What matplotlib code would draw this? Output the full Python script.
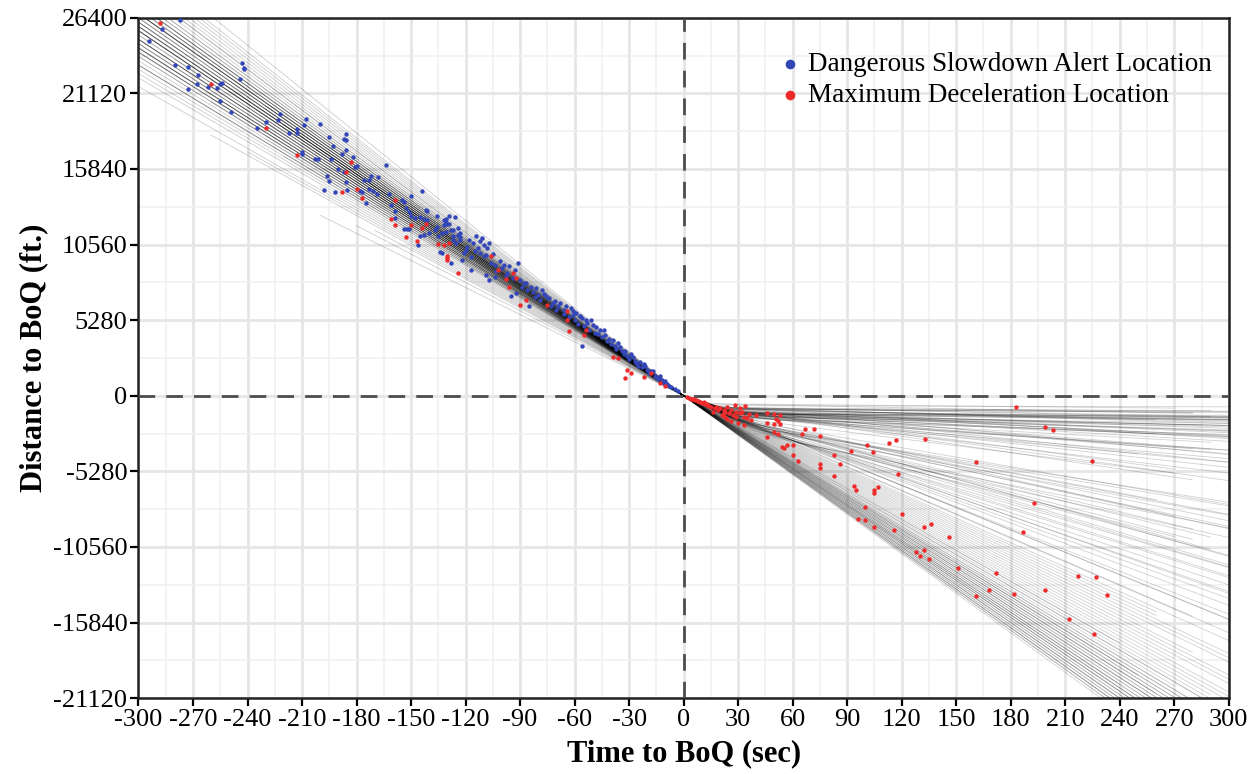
import matplotlib
matplotlib.use('Agg')
import matplotlib.pyplot as plt
from matplotlib.ticker import MultipleLocator
import numpy as np

plt.rcParams['font.family'] = 'serif'
plt.rcParams['font.serif'] = ['Liberation Serif', 'DejaVu Serif']
plt.rcParams['axes.unicode_minus'] = False

# upstream trajectories: speed (ft/s) and time the record starts (s)
up_speed = [84, 79, 88, 91, 76, 83, 86, 95, 81, 73,
            87, 82, 90, 78, 85, 99, 80, 84, 69, 89,
            86, 92, 77, 83, 81, 94, 88, 75, 85, 97,
            82, 79, 90, 86, 71, 84, 93, 87, 80, 83,
            102, 78, 85, 89, 66, 82, 91, 86, 84, 74,
            88, 81, 96, 79, 87, 83, 92, 85, 70, 89,
            80, 86, 100, 77, 84, 90, 82, 88, 63, 85,
            93, 81, 87, 76, 83, 98, 86, 89, 80, 84,
            91, 72, 88, 82, 85, 95, 79, 87, 68, 86,
            83, 86, 80, 88, 84, 82, 87, 85, 79, 90,
            81, 86, 84, 89, 83, 77, 85, 88, 82, 86,
            91, 84, 80, 87, 83, 85, 78, 89, 86, 82]
up_start = [-320, -260, -320, -300, -220, -320, -180, -290, -320, -200,
            -320, -240, -280, -320, -160, -280, -320, -210, -150, -320,
            -250, -290, -320, -190, -320, -285, -230, -320, -320, -275,
            -170, -320, -300, -320, -240, -140, -295, -320, -260, -320,
            -260, -200, -320, -310, -180, -320, -290, -220, -320, -320,
            -150, -320, -280, -230, -320, -320, -300, -190, -260, -320,
            -320, -270, -270, -320, -170, -300, -320, -250, -200, -320,
            -290, -320, -210, -320, -320, -280, -320, -320, -160, -240,
            -300, -320, -320, -190, -320, -290, -320, -230, -170, -320,
            -320, -200, -320, -260, -180, -320, -240, -320, -150, -300,
            -320, -220, -280, -320, -190, -320, -250, -320, -160, -320,
            -290, -210, -320, -320, -170, -320, -230, -310, -320, -200]

# downstream trajectories: early speed, bend time, late speed, end time
ds_v1 = [45, 40, 50, 42, 48, 38, 52, 44, 46, 50, 40, 47, 43, 55, 41, 49, 45, 39,
         51, 44, 48, 46, 42, 50, 47, 43, 45, 40, 52, 44, 49, 46, 41, 53, 45, 48,
         44, 47, 42, 50, 45, 39, 53, 46, 43, 48, 41, 51, 44, 47, 40, 49, 45, 42,
         52, 46, 43, 50, 44, 48,
         55, 50, 58, 52, 60, 48, 56, 54, 50, 62, 57, 53, 59, 51, 55, 60, 49, 58,
         55, 52, 58, 50, 57, 54, 60, 51, 56, 53, 59, 50, 55, 57,
         60, 64, 67, 70, 72, 73, 74, 75, 76, 77, 77, 78, 78, 79, 79, 80, 80, 81,
         81, 82, 82, 83, 83, 84, 84, 85, 85, 86, 86, 87, 87, 88, 88, 89, 89, 90,
         90, 91, 92, 58,
         52, 55, 57, 59, 61, 62, 63, 65, 66, 68, 69, 71, 72, 74, 76, 78, 80, 82,
         84, 85, 86, 88, 90, 91]
ds_tb = [20, 25, 18, 30, 22, 15, 25, 28, 12, 30, 35, 24, 20, 22, 18, 26, 32, 28,
         20, 16, 30, 25, 22, 28, 35, 30, 18, 24, 20, 26, 14, 33, 28, 24, 30, 19,
         22, 27, 19, 24, 29, 21, 17, 31, 26, 23, 32, 27, 20, 34, 29, 21, 26, 24,
         28, 18, 33, 16, 30, 25,
         30, 40, 25, 45, 35, 50, 28, 60, 35, 40, 30, 55, 22, 38, 45, 30, 32, 50,
         35, 42, 28, 48, 33, 38, 26, 44, 36, 30, 40, 28, 50, 24,
         0, 0, 0, 0, 0, 0, 0, 0, 0, 0, 0, 0, 0, 0, 0, 0, 0, 0,
         0, 0, 0, 0, 0, 0, 0, 0, 0, 0, 0, 0, 0, 0, 0, 0, 0, 0,
         0, 0, 0, 0,
         0, 0, 0, 0, 0, 0, 0, 0, 0, 0, 0, 0, 0, 0, 0, 0, 0, 0,
         0, 0, 0, 0, 0, 0]
ds_v2 = [1, 2, 0.5, 3, 1.5, 2.5, 4, 0.8, 1.2, 5, 2, 6, 3.5, 2, 8, 1, 7, 10,
         4.5, 12, 9, 14, 3, 11, 16, 6, 2.2, 18, 5.5, 13, 0.3, 8.5, 1.8, 3, 15, 2.8,
         0.5, 1.5, 2.5, 3.2, 0.2, 4, 1, 2.4, 5, 7.5, 9.5, 12, 17, 4.2, 1.3, 6.5, 10.5, 19,
         2.6, 0.9, 3.8, 13.5, 5.8, 1.7,
         22, 28, 35, 20, 40, 30, 45, 25, 38, 32, 26, 42, 48, 24, 34, 44, 36, 28,
         24, 31, 38, 21, 46, 27, 50, 33, 40, 52, 23, 29, 37, 55,
         60, 64, 67, 70, 72, 73, 74, 75, 76, 77, 77, 78, 78, 79, 79, 80, 80, 81,
         81, 82, 82, 83, 83, 84, 84, 85, 85, 86, 86, 87, 87, 88, 88, 89, 89, 90,
         90, 91, 92, 58,
         52, 55, 57, 59, 61, 62, 63, 65, 66, 68, 69, 71, 72, 74, 76, 78, 80, 82,
         84, 85, 86, 88, 90, 91]
ds_end = [300, 300, 290, 300, 300, 280, 300, 300, 270, 300, 300, 300, 300, 260, 300, 300, 290, 300,
          300, 300, 280, 300, 300, 300, 270, 300, 300, 300, 300, 250, 300, 300, 300, 285, 300, 300,
          300, 300, 290, 300, 300, 300, 280, 300, 300, 300, 290, 300, 270, 300, 300, 300, 300, 280,
          300, 300, 300, 300, 260, 300,
          300, 300, 290, 300, 300, 280, 300, 300, 300, 270, 300, 300, 300, 260, 300, 300, 300, 300,
          300, 290, 300, 300, 300, 300, 300, 280, 300, 300, 300, 270, 300, 300,
          300, 280, 300, 300, 290, 300, 300, 270, 300, 300, 300, 250, 300, 300, 300, 300, 260, 300,
          300, 300, 280, 300, 300, 300, 240, 300, 300, 300, 300, 290, 300, 300, 300, 300, 270, 300,
          300, 300, 300, 260,
          300, 280, 300, 260, 300, 300, 250, 300, 300, 270, 300, 300, 240, 300, 300, 300, 300, 300,
          300, 300, 300, 300, 300, 300]

blue_t = [-287, -294, -277, -280, -273, -267, -268, -273, -262, -257, -255, -254, -255, -243,
          -242, -242, -244, -249, -222, -223, -230, -235, -208, -209, -213, -213, -217,
          -200, -210, -210, -195, -186, -187, -186, -193, -188, -186, -182, -194, -203, -201,
          -181, -180, -190, -187, -196, -195, -186, -198, -192, -185, -178, -177, -176, -173,
          -172, -168, -173, -171, -169, -175, -164, -162, -155, -154, -150, -144, -161, -159,
          -159, -153, -151, -154, -152, -151, -145, -143, -146, -150, -148, -145, -142, -141,
          -143, -141, -140, -137, -136, -136, -135, -134, -131, -131, -129, -129, -126, -127,
          -124, -123, -127, -125, -123,
          -132, -131, -132, -133, -131, -128, -127, -124, -123, -133, -128, -117, -121, -120,
          -122, -118, -116, -114, -112, -111, -110, -107, -108, -115, -112, -110, -109, -106,
          -104, -101, -109, -107, -104, -99, -96, -93, -91, -95, -92, -89, -88, -86, -85, -83,
          -80, -78, -76, -72, -69, -66, -61, -57,
          -119, -117, -113, -105, -103, -100, -98, -97, -94, -90, -87, -84, -82, -81, -79, -77,
          -74, -73, -71, -70,
          -65, -61, -57, -54, -50, -46, -43, -39, -35, -32, -28, -24, -21, -17, -13, -10,
          -68, -66, -63, -62, -60, -59, -58, -56, -55, -53, -52, -51, -49, -48, -47, -45,
          -44, -42, -41, -40, -38, -37, -36, -34, -33, -31, -30, -29, -27, -26, -25, -23,
          -22, -20, -19, -18, -16, -15, -14, -12, -11, -9, -8, -7, -5, -3, -56]
blue_d = [25610, 24770, 26260, 23120, 22960, 22400, 21770, 21460, 21600, 21510, 21810, 21850, 20620, 23210,
          22910, 22790, 22100, 19810, 19670, 19280, 19090, 18720, 19350, 18900, 18620, 18350, 18350,
          19000, 17060, 16880, 18040, 18280, 17950, 17880, 17460, 16900, 17180, 16670, 16570, 16550, 16550,
          16010, 16040, 15830, 15620, 15320, 14970, 14900, 14390, 14230, 14340, 14320, 14230, 15040, 15090,
          15320, 15250, 14430, 14320, 14090, 13460, 16130, 14090, 13690, 13500, 13920, 14300, 13320, 12900,
          12410, 13110, 12830, 11640, 11640, 11640, 11170, 11240, 10500, 12570, 12410, 12520, 12990, 12920,
          12380, 12290, 11360, 11590, 12570, 11820, 11130, 10010, 12340, 12010, 11990, 12570, 12520, 11590,
          11710, 11360, 10900, 10660, 11080,
          12290, 12130, 11940, 11360, 11470, 11590, 11130, 11240, 10900, 9970, 9270, 8750, 9970, 10200,
          9500, 10900, 10660, 11130, 10780, 11010, 10550, 10660, 10310, 10080, 9970, 9730, 9850, 9270,
          9150, 9380, 8450, 8100, 8290, 9150, 9030, 8800, 9270, 6940, 7170, 7630, 7870, 7400, 6240, 7280,
          7050, 7400, 6940, 6470, 6240, 6010, 5660, 5540,
          10400, 9700, 10350, 9900, 8700, 8900, 8400, 8600, 8200, 8100, 7900, 7600, 6900, 7500, 6700, 7100,
          6800, 6300, 6600, 6000,
          6240, 5890, 5540, 5310, 4960, 4610, 4260, 3910, 3440, 3100, 2740, 2390, 2050, 1700, 1350, 1000,
          6500, 5700, 5500, 6100, 5300, 5800, 5000, 5400, 4900, 5100, 4600, 5300, 4400, 4800, 4300, 4100,
          4600, 3800, 4000, 3600, 3500, 3300, 3700, 3100, 2900, 2800, 2600, 2900, 2400, 2300, 2100, 2000,
          2200, 1800, 1600, 1750, 1400, 1300, 1200, 1100, 900, 850, 700, 600, 450, 300, 3490]

red_t = [-288, -260, -230, -213, -183, -186, -188, -180, -177, -159, -161, -159, -153, -150, -147,
         -144, -142, -135, -130, -129, -132, -130, -130, -124, -106, -102, -98, -94, -92, -96, -90,
         -87, -75, -64, -63, -55, -54, -64, -39, -36, -31, -29, -32, -22, -18, -13, -10,
         2, 3, 4, 5, 6, 7, 8, 9, 10, 11, 12, 13, 14, 15, 5, 8, 11, 13,
         18, 20, 22, 23, 25, 27, 29, 31, 33, 28, 34, 26, 30, 33, 35, 37, 40, 21, 23, 16, 24, 31,
         19, 26, 29, 17, 22, 32, 36, 24,
         46, 50, 53, 46, 50, 53, 51, 52, 50, 52, 46, 57, 60, 54, 55, 60, 63, 67, 72, 65, 75, 75,
         75, 83, 86, 83, 92, 101, 104, 113, 117, 133, 94, 95, 107, 105, 105, 100, 118, 96, 100,
         105, 120, 116, 132, 136, 146, 128, 132, 130, 135, 151, 183, 199, 203, 161, 225, 193,
         187, 172, 168, 161, 182, 199, 217, 227, 233, 212, 226]
red_d = [26050, 21790, 18670, 16830, 16360, 15620, 14250, 14410, 13780, 13690, 12340, 11960, 11080, 11960, 10780,
         11710, 12030, 10570, 9730, 10660, 10550, 9620, 9450, 8610, 9730, 8800, 8150, 8570, 8220, 7630, 6360,
         6700, 6360, 5890, 4490, 4260, 4610, 5310, 2740, 2630, 1820, 1590, 1240, 1310, 1590, 890, 650,
         -100, -150, -200, -260, -300, -330, -400, -420, -480, -520, -600, -620, -700, -750, -200, -350, -450, -560,
         -750, -860, -980, -1100, -1210, -1330, -1100, -1210, -1450, -630, -700, -1790, -1910, -2030, -1560, -1680,
         -1330, -1330, -1450, -1100, -750, -860,
         -1000, -1000, -1500, -850, -1200, -1100, -1300, -1600,
         -1170, -1260, -1310, -1910, -1960, -2000, -1630, -1750, -2510, -2700, -2910, -3420, -3470, -3610, -3650,
         -4170, -4590, -2300, -2330, -2670, -2840, -4770,
         -5010, -4120, -4770, -5590, -3840, -3420, -3960, -3310, -3120, -3030, -6290, -6560, -6380, -6560, -6770,
         -7800, -5450, -8590, -8710,
         -9150, -8260, -9410, -9170, -8990, -9850, -10920, -10800, -11220, -11380, -12060, -770, -2210, -2370,
         -4630, -4540, -7470,
         -9550, -12390, -13550, -14020, -13850, -13600, -12590, -12690, -13900, -15600, -16620]

x_ticks = [-300, -270, -240, -210, -180, -150, -120, -90, -60, -30, 0,
           30, 60, 90, 120, 150, 180, 210, 240, 270, 300]
y_ticks = [-21120, -15840, -10560, -5280, 0, 5280, 10560, 15840, 21120, 26400]

fig = plt.figure(figsize=(12.59, 7.74), dpi=100)
ax = fig.add_axes([0.110, 0.098, 0.866, 0.879])

# trajectory lines
for v, t0 in zip(up_speed, up_start):
    ax.plot([t0, 0], [-v * t0, 0], color='black', lw=0.6, alpha=0.2, zorder=2)
for v1, tb, v2, te in zip(ds_v1, ds_tb, ds_v2, ds_end):
    db = -v1 * tb
    ax.plot([0, tb, te], [0, db, db - v2 * (te - tb)], color='black', lw=0.6,
            alpha=0.18, zorder=2)

ax.axhline(0, color='#4d4d4d', lw=2.0, dashes=(6, 4), zorder=3)
ax.axvline(0, color='#4d4d4d', lw=2.0, dashes=(6, 4), zorder=3)

ax.scatter(blue_t, blue_d, s=10, color='#3346b8', lw=0, zorder=4,
           label='Dangerous Slowdown Alert Location')
ax.scatter(red_t, red_d, s=10, color='#ee2a2a', lw=0, zorder=5,
           label='Maximum Deceleration Location')

ax.set_xlim(-300, 300)
ax.set_ylim(-21120, 26400)
ax.set_xticks(x_ticks)
ax.set_xticklabels([str(v) for v in x_ticks])
ax.set_yticks(y_ticks)
ax.set_yticklabels([str(v) for v in y_ticks])
ax.xaxis.set_minor_locator(MultipleLocator(15))
ax.yaxis.set_minor_locator(MultipleLocator(2640))
ax.grid(which='major', color='#e6e6e6', lw=2.0, zorder=0)
ax.grid(which='minor', color='#f0f0f0', lw=1.1, zorder=0)
ax.set_axisbelow(True)

ax.tick_params(which='major', direction='out', length=6, width=1.6,
               labelsize=19, colors='black', pad=2)
ax.tick_params(which='minor', length=0)
for s in ax.spines.values():
    s.set_linewidth(1.8)
    s.set_color('#222222')

ax.set_xlabel('Time to BoQ (sec)', fontsize=22, fontweight='bold', labelpad=6)
ax.set_ylabel('Distance to BoQ (ft.)', fontsize=22, fontweight='bold', labelpad=3)

ax.legend(loc='upper left', bbox_to_anchor=(0.573, 0.965), frameon=False,
          fontsize=19.5, markerscale=2.2, handletextpad=0.05, labelspacing=0.2,
          borderaxespad=0, handlelength=1.2)

fig.savefig('out.png', dpi=100)
